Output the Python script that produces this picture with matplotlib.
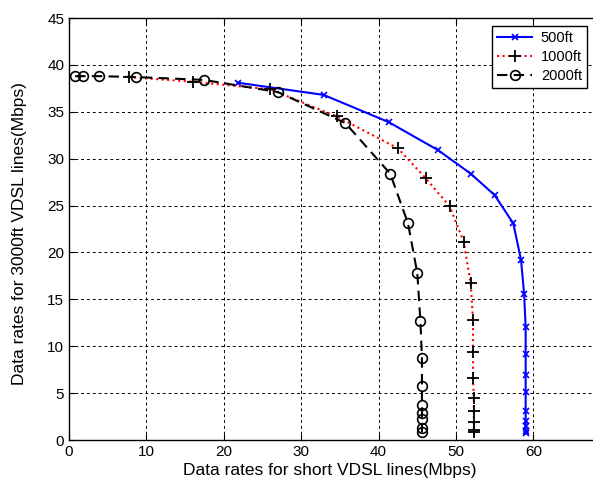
import matplotlib
matplotlib.use("Agg")
import matplotlib.pyplot as plt

plt.rcParams['font.family'] = ['Liberation Sans', 'DejaVu Sans']

# 500ft series
x500 = [21.8, 32.9, 41.3, 47.7, 51.9, 55.0, 57.4, 58.4, 58.8, 59.0, 59.0, 59.0, 59.0, 59.0, 59.0, 59.0, 59.0, 59.0]
y500 = [38.1, 36.8, 33.9, 30.9, 28.4, 26.1, 23.1, 19.2, 15.6, 12.0, 9.2, 6.9, 5.1, 3.1, 2.0, 1.5, 1.0, 0.7]

# 1000ft series
x1000 = [7.7, 16.0, 26.0, 34.6, 42.5, 46.1, 49.2, 51.0, 51.9, 52.2, 52.2, 52.2, 52.3, 52.3, 52.3, 52.3, 52.3]
y1000 = [38.7, 38.2, 37.4, 34.5, 31.1, 27.9, 24.9, 21.1, 16.7, 12.8, 9.4, 6.6, 4.5, 3.1, 1.9, 1.1, 0.8]

# 2000ft series
x2000 = [0.8, 1.8, 3.9, 8.7, 17.4, 27.0, 35.7, 41.5, 43.8, 45.0, 45.4, 45.6, 45.6, 45.6, 45.6, 45.6, 45.6, 45.6]
y2000 = [38.8, 38.8, 38.8, 38.7, 38.4, 37.1, 33.8, 28.4, 23.1, 17.8, 12.7, 8.75, 5.8, 3.75, 2.9, 2.2, 1.3, 0.8]

labels = ['500ft', '1000ft', '2000ft']
xticks = [0, 10, 20, 30, 40, 50, 60]
yticks = [0, 5, 10, 15, 20, 25, 30, 35, 40, 45]

W, H = 593, 488
fig = plt.figure(figsize=(W / 100, H / 100), dpi=100)
ax = fig.add_axes([69 / W, 48 / H, 541.8 / W, 422 / H])

ax.plot(x500, y500, color='blue', linestyle='-', linewidth=1.5, marker='x',
        markersize=4, markeredgewidth=1.2, label=labels[0])
ax.plot(x1000, y1000, color='red', linestyle=':', linewidth=1.5, marker='+',
        markersize=9, markeredgecolor='black', markeredgewidth=1.3, label=labels[1])
ax.plot(x2000, y2000, color='black', linestyle=(0, (5, 3)), linewidth=1.5, marker='o',
        markersize=7, markerfacecolor='none', markeredgecolor='black',
        markeredgewidth=1.2, label=labels[2])

ax.set_xlim(0, 70)
ax.set_ylim(0, 45)
ax.set_xticks(xticks)
ax.set_yticks(yticks)
ax.grid(True, color='black', linestyle=(0, (3, 3)), linewidth=0.7)
ax.tick_params(direction='in', top=True, right=True, length=4, labelsize=11)
for s in ax.spines.values():
    s.set_linewidth(1.0)

ax.set_xlabel('Data rates for short VDSL lines(Mbps)', fontsize=12.5)
ax.xaxis.set_label_coords((330 - 69) / 541.8, -(470 - 440) / 422, transform=ax.transAxes)
ax.set_ylabel('Data rates for 3000ft VDSL lines(Mbps)', fontsize=12.5)
ax.yaxis.set_label_coords(-(69 - 20) / 541.8, (440 - 234) / 422)
ax.xaxis.label.set_va('center')
ax.yaxis.label.set_va('center')

leg = ax.legend(loc='upper left', bbox_to_anchor=(492 / W, 1 - 26 / H),
                bbox_transform=fig.transFigure, fontsize=10.5, frameon=True,
                fancybox=False, edgecolor='black', framealpha=1,
                handlelength=2.4, handletextpad=0.6, borderpad=0.35,
                labelspacing=0.35, borderaxespad=0)
leg.get_frame().set_linewidth(1.0)

fig.savefig('out.png', dpi=100)
